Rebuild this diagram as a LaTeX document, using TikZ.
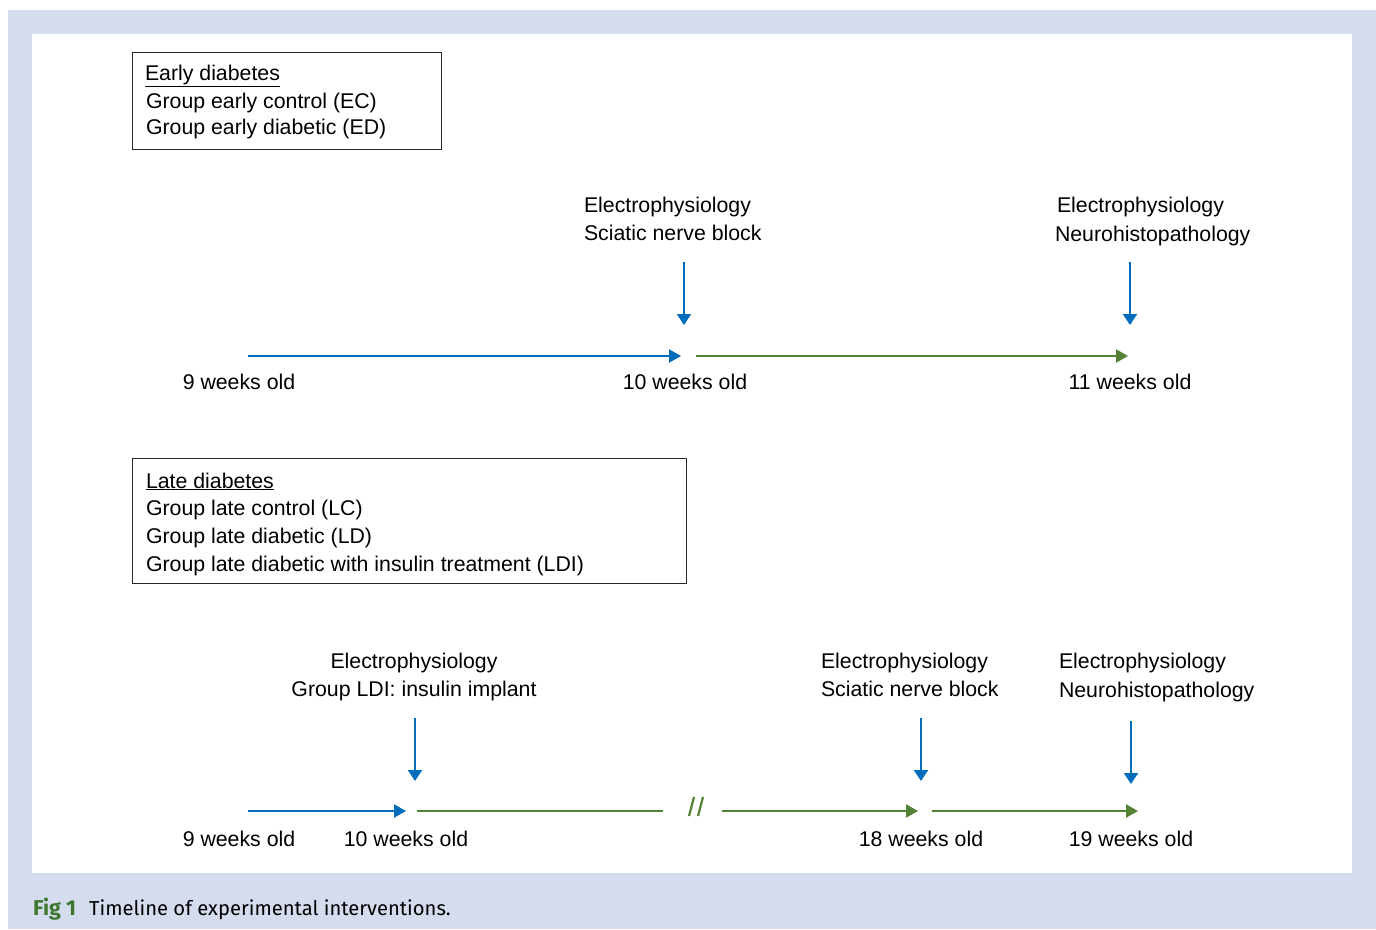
\documentclass[tikz,border=0pt]{standalone}
\usepackage{fontspec}
\setmainfont{Liberation Sans}
\newfontfamily\capfont{Fira Sans}
\usetikzlibrary{arrows.meta}
\definecolor{frameblue}{RGB}{213,220,238}
\definecolor{lineblue}{RGB}{0,108,188}
\definecolor{linegreen}{RGB}{84,130,53}
\definecolor{capgreen}{RGB}{62,120,48}
\definecolor{boxgray}{RGB}{40,40,40}
\tikzset{
  txt/.style={font=\fontsize{21.3}{28}\selectfont, inner sep=0pt, outer sep=0pt},
  lbl/.style={txt, anchor=base west},
  wk/.style={txt, anchor=base},
  grpbox/.style={draw=boxgray, line width=1.4pt, anchor=north west, inner sep=0pt},
  bluearrow/.style={draw=lineblue, line width=2pt, -{Triangle[length=12pt,width=13pt]}},
  greenarrow/.style={draw=linegreen, line width=2pt, -{Triangle[length=12pt,width=13pt]}},
  greenline/.style={draw=linegreen, line width=2pt},
  downarrow/.style={draw=lineblue, line width=2pt, -{Triangle[length=11pt,width=14pt]}},
  captxt/.style={anchor=base west, inner sep=0pt, font=\capfont\fontsize{20.2}{24}\selectfont},
}
\begin{document}
\begin{tikzpicture}[x=1pt,y=-1pt]
\useasboundingbox (0,0) rectangle (1376,929);
% frame
\fill[frameblue] (8,10) rectangle (1376,929);
\fill[white] (32,34) rectangle (1352,873);

% ---------- Early diabetes box
\node[grpbox, minimum width=309pt, minimum height=97pt] (box1) at (132,52) {};
\node[lbl] (e1) at (145,80) {\underline{Early diabetes}};
\node[lbl] (e2) at (146,108) {Group early control (EC)};
\node[lbl] (e3) at (146,134) {Group early diabetic (ED)};

% top timeline texts
\node[lbl] (t1) at (584,212) {Electrophysiology};
\node[lbl] (t2) at (584,240) {Sciatic nerve block};
\node[lbl] (t3) at (1057,212) {Electrophysiology};
\node[lbl] (t4) at (1055,241) {Neurohistopathology};

% top timeline coordinates
\coordinate (t1a) at (248,356);
\coordinate (t1b) at (681,356);
\coordinate (t1c) at (696,356);
\coordinate (t1d) at (1128,356);
\coordinate (d1s) at (684,262);
\coordinate (d1e) at (684,325);
\coordinate (d2s) at (1130,262);
\coordinate (d2e) at (1130,325);

\draw[bluearrow] (t1a) -- (t1b);
\draw[greenarrow] (t1c) -- (t1d);
\draw[downarrow] (d1s) -- (d1e);
\draw[downarrow] (d2s) -- (d2e);

\node[wk] (w9a) at (239,389) {9 weeks old};
\node[wk] (w10a) at (685,389) {10 weeks old};
\node[wk] (w11a) at (1130,389) {11 weeks old};

% ---------- Late diabetes box
\node[grpbox, minimum width=554pt, minimum height=125pt] (box2) at (132,458) {};
\node[lbl] (l1) at (146,488) {\underline{Late diabetes}};
\node[lbl] (l2) at (146,515) {Group late control (LC)};
\node[lbl] (l3) at (146,543) {Group late diabetic (LD)};
\node[lbl] (l4) at (146,571) {Group late diabetic with insulin treatment (LDI)};

% bottom timeline texts
\node[wk] (b1) at (414,668) {Electrophysiology};
\node[wk] (b2) at (414,696) {Group LDI: insulin implant};
\node[lbl] (b3) at (821,668) {Electrophysiology};
\node[lbl] (b4) at (821,696) {Sciatic nerve block};
\node[lbl] (b5) at (1059,668) {Electrophysiology};
\node[lbl] (b6) at (1059,697) {Neurohistopathology};

% bottom timeline coordinates
\coordinate (b1a) at (248,811);
\coordinate (b1b) at (406,811);
\coordinate (b2a) at (417,811);
\coordinate (b2b) at (663,811);
\coordinate (b3a) at (722,811);
\coordinate (b3b) at (918,811);
\coordinate (b4a) at (932,811);
\coordinate (b4b) at (1138,811);
\coordinate (s1a) at (689,816);
\coordinate (s1b) at (694,797);
\coordinate (s2a) at (698,816);
\coordinate (s2b) at (703,797);
\coordinate (d3s) at (415,718);
\coordinate (d3e) at (415,781);
\coordinate (d4s) at (921,718);
\coordinate (d4e) at (921,781);
\coordinate (d5s) at (1131,721);
\coordinate (d5e) at (1131,784);

\draw[bluearrow] (b1a) -- (b1b);
\draw[greenline] (b2a) -- (b2b);
\draw[greenline, line width=2.2pt] (s1a) -- (s1b);
\draw[greenline, line width=2.2pt] (s2a) -- (s2b);
\draw[greenarrow] (b3a) -- (b3b);
\draw[greenarrow] (b4a) -- (b4b);
\draw[downarrow] (d3s) -- (d3e);
\draw[downarrow] (d4s) -- (d4e);
\draw[downarrow] (d5s) -- (d5e);

\node[wk] (w9b) at (239,846) {9 weeks old};
\node[wk] (w10b) at (406,846) {10 weeks old};
\node[wk] (w18b) at (921,846) {18 weeks old};
\node[wk] (w19b) at (1131,846) {19 weeks old};

% caption
\node[captxt, font=\capfont\fontsize{21.5}{24}\selectfont\bfseries, text=capgreen] (capfig) at (33,915) {Fig 1};
\node[captxt] (cap) at (89,915) {Timeline of experimental interventions.};
\end{tikzpicture}
\end{document}
